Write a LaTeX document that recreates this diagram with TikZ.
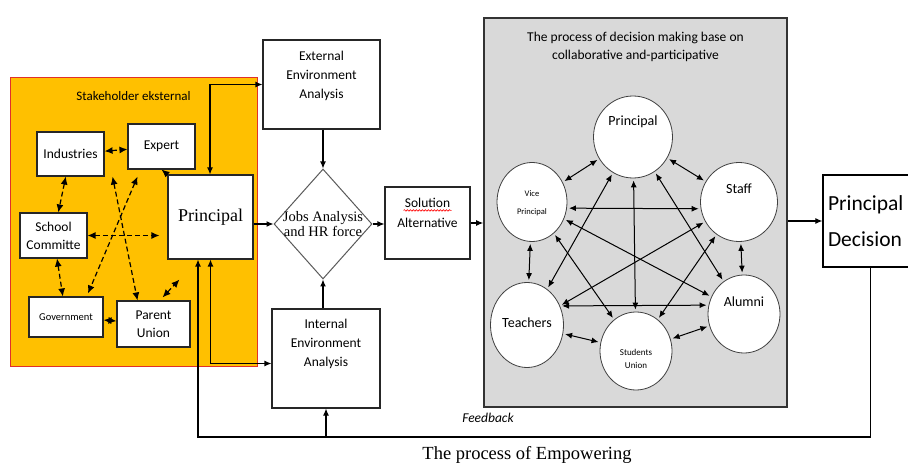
\documentclass[tikz,border=0pt]{standalone}
\usepackage{fontspec}
\setmainfont{Carlito}
\newfontfamily\tnr{Liberation Serif}
\usepackage{tikz}
\usetikzlibrary{arrows.meta, positioning, shapes.geometric, decorations.pathmorphing}
\definecolor{stakeorange}{HTML}{FFC000}
\definecolor{stakered}{HTML}{E0302A}
\definecolor{procgray}{HTML}{D9D9D9}

\begin{document}
\begin{tikzpicture}[x=1pt, y=-1pt]

    % Styles
    \tikzset{
        boxstyle/.style={rectangle, draw=black!85, line width=1.1pt, fill=white, align=center, inner sep=1pt},
        smallbox/.style={boxstyle, font=\fontsize{13.5}{18}\selectfont},
        boxtext/.style={anchor=north, align=center, font=\fontsize{13.5}{19}\selectfont},
        member/.style={ellipse, draw=black!75, line width=0.8pt, fill=white, inner sep=0pt},
        ctext/.style={anchor=center, align=center, font=\fontsize{14}{16}\selectfont},
        tinytext/.style={anchor=center, align=center, font=\fontsize{8.5}{18}\selectfont},
        arrow/.style={-{Latex[length=7pt,width=6pt]}, line width=1.1pt},
        biarrow/.style={{Latex[length=7pt,width=6pt]}-{Latex[length=7pt,width=6pt]}, line width=1.1pt},
        linkarrow/.style={{Latex[length=7pt,width=6pt]}-{Latex[length=7pt,width=6pt]}, line width=1pt, shorten <=2pt, shorten >=2pt},
        dashline/.style={line width=1.2pt, dash pattern=on 5pt off 3pt},
        dasharrow/.style={dashline, {Latex[length=8pt,width=7pt]}-{Latex[length=8pt,width=7pt]}}
    }

    \clip (0,0) rectangle (908,465);

    % Stakeholder frame
    \node[rectangle, draw=stakered, line width=1pt, fill=stakeorange, minimum width=247pt, minimum height=288pt,
          label={[anchor=north, yshift=-10pt, font=\fontsize{13}{15}\selectfont]north:Stakeholder eksternal}] (stake) at (133.5,222) {};

    \node[smallbox, minimum width=67pt, minimum height=44pt] (ind) at (70.5,154) {Industries};
    \node[smallbox, minimum width=67pt, minimum height=45pt] (exp) at (161.5,146.5) {Expert};
    \node[boxstyle, minimum width=85pt, minimum height=84pt, font=\tnr\fontsize{18}{20}\selectfont] (pri) at (210.5,217) {Principal};
    \node[smallbox, minimum width=67pt, minimum height=45pt] (sch) at (53.5,235.5) {School\\Committe};
    \node[boxstyle, minimum width=74pt, minimum height=40pt, font=\fontsize{10.5}{12}\selectfont] (gov) at (66,317) {Government};
    \node[smallbox, minimum width=73pt, minimum height=46pt] (par) at (153.5,324) {Parent\\Union};

    % Analysis
    \node[boxstyle, minimum width=117pt, minimum height=89pt,
          label={[boxtext, yshift=-8pt]north:External\\Environment\\Analysis}] (ext) at (321.5,84.5) {};
    \node[boxstyle, minimum width=108pt, minimum height=99pt,
          label={[boxtext, yshift=-7pt]north:Internal\\Environment\\Analysis}] (int) at (326,358.5) {};
    \node[diamond, draw=black!65, line width=1pt, fill=white, aspect=0.9, inner sep=0pt, minimum width=98pt, minimum height=110pt,
          label={[anchor=center, yshift=-56pt, align=center, font=\tnr\fontsize{14.5}{15}\selectfont]north:Jobs Analysis\\and HR force}] (dia) at (323,224) {};
    \node[boxstyle, minimum width=85pt, minimum height=72pt,
          label={[boxtext, yshift=-8pt, font=\fontsize{13.5}{20}\selectfont]north:Solution\\Alternative}] (sol) at (427.5,223) {};
    \draw[red, line width=0.6pt, decorate, decoration={snake, amplitude=0.8pt, segment length=3pt}]
        ([xshift=-24pt,yshift=-24pt]sol.north) -- ([xshift=24pt,yshift=-24pt]sol.north);

    % Decision making
    \node[rectangle, draw=black!80, line width=1.6pt, fill=procgray, minimum width=303pt, minimum height=389pt,
          label={[boxtext, yshift=-11pt, font=\fontsize{13.5}{18}\selectfont]north:The process of decision making base on\\collaborative and-participative}] (dm) at (635.5,212.5) {};

    \node[member, minimum width=79pt, minimum height=82pt, label={[ctext, yshift=-26pt]north:Principal}] (pr) at (633,137) {};
    \node[member, minimum width=70pt, minimum height=79pt, label={[tinytext, yshift=-41pt]north:Vice\\Principal}] (vp) at (532,202) {};
    \node[member, minimum width=77pt, minimum height=79pt, label={[ctext, yshift=-27pt]north:Staff}] (st) at (739,202) {};
    \node[member, minimum width=73pt, minimum height=85pt, label={[ctext, yshift=-41pt]north:Teachers}] (te) at (527,325) {};
    \node[member, minimum width=72pt, minimum height=78pt, label={[ctext, yshift=-27pt]north:Alumni}] (al) at (744,314) {};
    \node[member, minimum width=72pt, minimum height=78pt, label={[tinytext, yshift=-47pt, font=\fontsize{9}{13}\selectfont]north:Students\\Union}] (su) at (636,351) {};

    \foreach \a/\b in {pr/vp, pr/st, pr/te, pr/su, pr/al, vp/te, vp/su, vp/al, st/te, st/su, st/al, te/su, su/al} {
        \draw[linkarrow] (\a) -- (\b);
    }
    \draw[linkarrow] (vp.-10) -- (st.190);
    \draw[linkarrow] (te.30) -- (al.166);

    % Decision
    \node[rectangle, draw=black, line width=1.2pt, fill=white, minimum width=100pt, minimum height=92pt,
          text width=90pt, align=left, font=\fontsize{21.5}{36}\selectfont] (dec) at (873,221) {Principal\\Decision};

    % Stakeholder links
    \draw[dasharrow] (ind) -- (exp);
    \draw[dasharrow] (ind) -- (sch);
    \draw[dasharrow] (sch) -- (gov);
    \draw[dasharrow] (gov) -- (par);
    \draw[dasharrow] (sch.east) -- ([xshift=-8pt]sch.east -| pri.west);
    \draw[dasharrow] ([xshift=8pt]ind.south east) -- ([xshift=-16pt]par.north);
    \draw[dasharrow] ([xshift=-24pt,yshift=-7pt]exp.south) -- ([xshift=22pt,yshift=3pt]gov.north);
    \draw[dasharrow] ([xshift=-28pt,yshift=3pt]par.north east) -- ([xshift=12pt,yshift=-20pt]pri.south west);
    \draw[dashline, -{Latex[length=8pt,width=7pt]}] (pri.north west) -- (exp.south);

    % Flow
    \draw[biarrow] ([xshift=-0.5pt]pri.north) |- (ext.west);
    \draw[arrow] (pri.east |- dia.west) -- (dia.west);
    \draw[biarrow] (pri.south) |- ([yshift=-5pt]int.west);
    \draw[arrow] (dia.north |- ext.south) -- (dia.north);
    \draw[arrow] (dia.south |- int.north) -- (dia.south);
    \draw[arrow] (dia.east) -- (dia.east -| sol.west);
    \draw[arrow] (sol.east) -- (sol.east -| dm.west);
    \draw[arrow] (dm.east |- dec.west) -- (dec.west);

    % Feedback
    \coordinate (fbl) at (198,437);
    \draw[arrow] ([xshift=48pt]dec.south west) |- (fbl) -- (fbl |- pri.south);
    \draw[arrow] (fbl -| int.south) -- (int.south);
    \node[font=\itshape\fontsize{13.5}{15}\selectfont] (fb) at (488,418) {Feedback};
    \node[font=\tnr\fontsize{18.5}{20}\selectfont] (cap) at (527,455) {The process of Empowering};

\end{tikzpicture}
\end{document}
